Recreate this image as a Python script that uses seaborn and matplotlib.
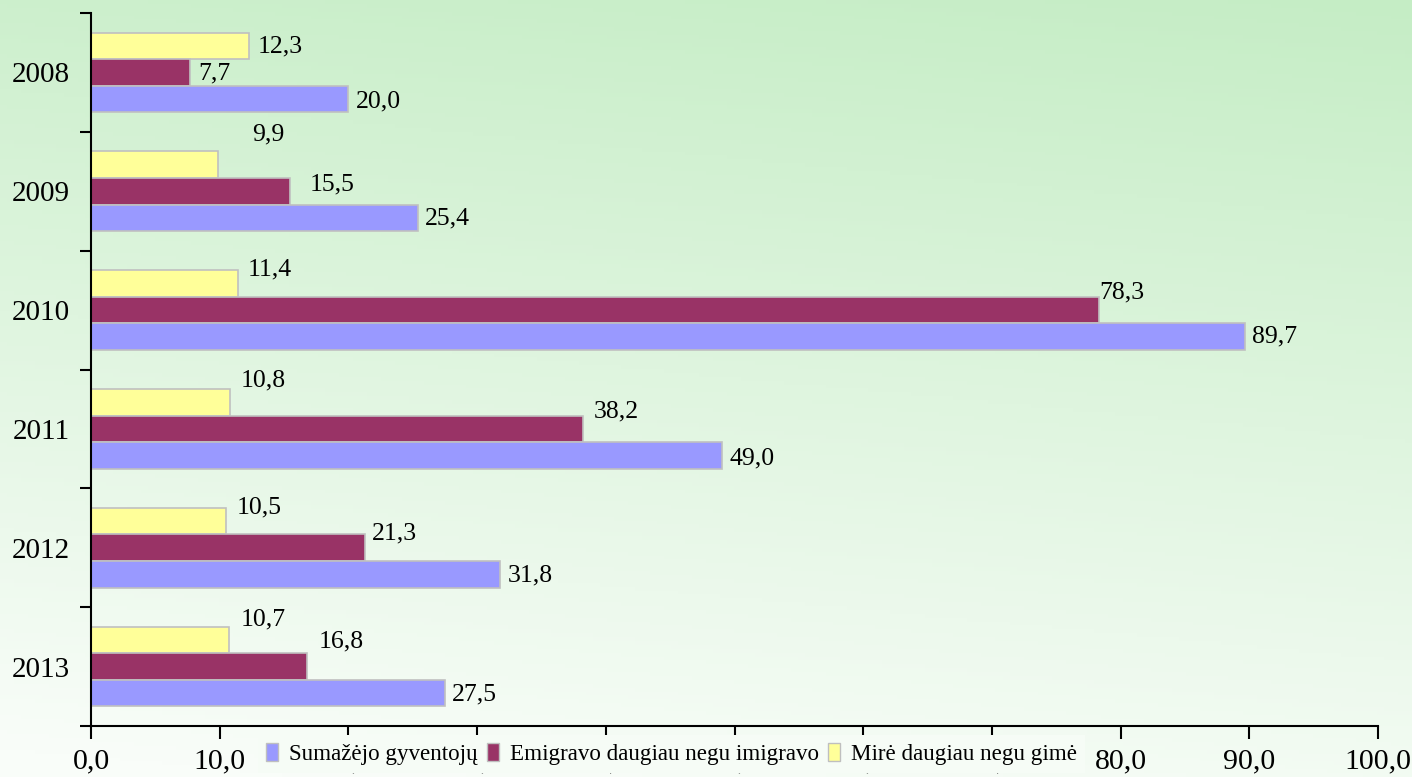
import numpy as np
import pandas as pd
import matplotlib
matplotlib.use("Agg")
import matplotlib.pyplot as plt
import seaborn as sns
from matplotlib.patches import Patch

# ---------------- data ----------------
years = ["2008", "2009", "2010", "2011", "2012", "2013"]
sumazejo = [20.0, 25.4, 89.7, 49.0, 31.8, 27.5]
emigravo = [7.7, 15.5, 78.3, 38.2, 21.3, 16.8]
mire = [12.3, 9.9, 11.4, 10.8, 10.5, 10.7]
series_names = ["Sumažėjo gyventojų", "Emigravo daugiau negu imigravo", "Mirė daugiau negu gimė"]
x_ticks = [0, 10, 20, 30, 40, 50, 60, 70, 80, 90, 100]

# ---------------- style ----------------
colors = {"Sumažėjo gyventojų": "#9999FF",
          "Emigravo daugiau negu imigravo": "#993366",
          "Mirė daugiau negu gimė": "#FFFF99"}
# label offsets in pixels (dx, dy) for each series, per year
label_offsets = {
    "Mirė daugiau negu gimė": [(8, -1), (34, 30), (10, 14), (11, 22), (11, 14), (12, 21)],
    "Emigravo daugiau negu imigravo": [(8, -1), (19, 7), (1, 18), (11, 17), (7, 14), (11, 25)],
    "Sumažėjo gyventojų": [(7, -2), (7, -1), (7, 0), (8, -3), (7, -1), (7, -1)],
}

plt.rcParams["font.family"] = ["Liberation Serif", "DejaVu Serif"]

W, H = 1412, 777
fig = plt.figure(figsize=(W / 100, H / 100), dpi=100)

# background gradient
bg = fig.add_axes([0, 0, 1, 1], zorder=-10)
ny, nx = 200, 200
yy, xx = np.mgrid[0:1:ny * 1j, 0:1:nx * 1j]
t = np.clip(yy * 0.88 + (1 - xx) * 0.15, 0, 1)
top = np.array([197, 237, 197]) / 255
bot = np.array([249, 253, 249]) / 255
grad = top[None, None, :] + t[..., None] * (bot - top)[None, None, :]
bg.imshow(grad, aspect="auto", extent=[0, 1, 0, 1], origin="upper")
bg.axis("off")

ax = fig.add_axes([91 / W, 1 - 726 / H, (1378 - 91) / W, (726 - 13) / H])
ax.set_facecolor("none")

df = pd.DataFrame({
    "year": years * 3,
    "series": [series_names[0]] * 6 + [series_names[1]] * 6 + [series_names[2]] * 6,
    "value": sumazejo + emigravo + mire,
})
hue_order = [series_names[2], series_names[1], series_names[0]]
sns.barplot(data=df, y="year", x="value", hue="series", hue_order=hue_order,
            order=years, palette=[colors[h] for h in hue_order], orient="h",
            width=0.67, edgecolor="#C0C0C0", linewidth=1.2, saturation=1,
            errorbar=None, legend=False, ax=ax)

for cont, name in zip(ax.containers, hue_order):
    for bar, (dx, dy) in zip(cont, label_offsets[name]):
        v = bar.get_width()
        yc = bar.get_y() + bar.get_height() / 2
        ax.annotate(f"{v:.1f}".replace(".", ","), xy=(bar.get_x() + v, yc),
                    xytext=(dx, dy), textcoords="offset pixels",
                    ha="left", va="center", fontsize=18.5, color="black")

ax.set_xlim(0, 100)
ax.set_ylim(5.5, -0.5)
ax.set_xticks(x_ticks)
ax.set_xticklabels([f"{v:.1f}".replace(".", ",") for v in x_ticks])
ax.set_yticks([i - 0.5 for i in range(7)])
ax.set_yticklabels([])
ax.set_yticks(range(6), minor=True)
ax.set_yticklabels(years, minor=True)
ax.tick_params(axis="y", which="major", length=8, width=1.5, direction="out")
ax.tick_params(axis="y", which="minor", length=0, pad=15, labelsize=21)
ax.tick_params(axis="x", length=9, width=1.5, direction="out", labelsize=21.5, pad=7)
ax.set_xlabel("")
ax.set_ylabel("")
for s in ["top", "right"]:
    ax.spines[s].set_visible(False)
for s in ["left", "bottom"]:
    ax.spines[s].set_linewidth(1.5)
    ax.spines[s].set_color("black")

handles = [Patch(facecolor=colors[n], edgecolor="#BFBFBF", linewidth=1) for n in series_names]
leg = fig.legend(handles, series_names, loc="upper left",
                 bbox_to_anchor=(258 / W, 1 - 735 / H), ncol=3, frameon=True,
                 facecolor="#F6FCF6", edgecolor="none", framealpha=1, fancybox=False,
                 fontsize=16.6, handlelength=0.5, handleheight=0.8, handletextpad=0.5,
                 columnspacing=0.4, borderpad=0.35, borderaxespad=0)

fig.savefig("out.png", dpi=100)
